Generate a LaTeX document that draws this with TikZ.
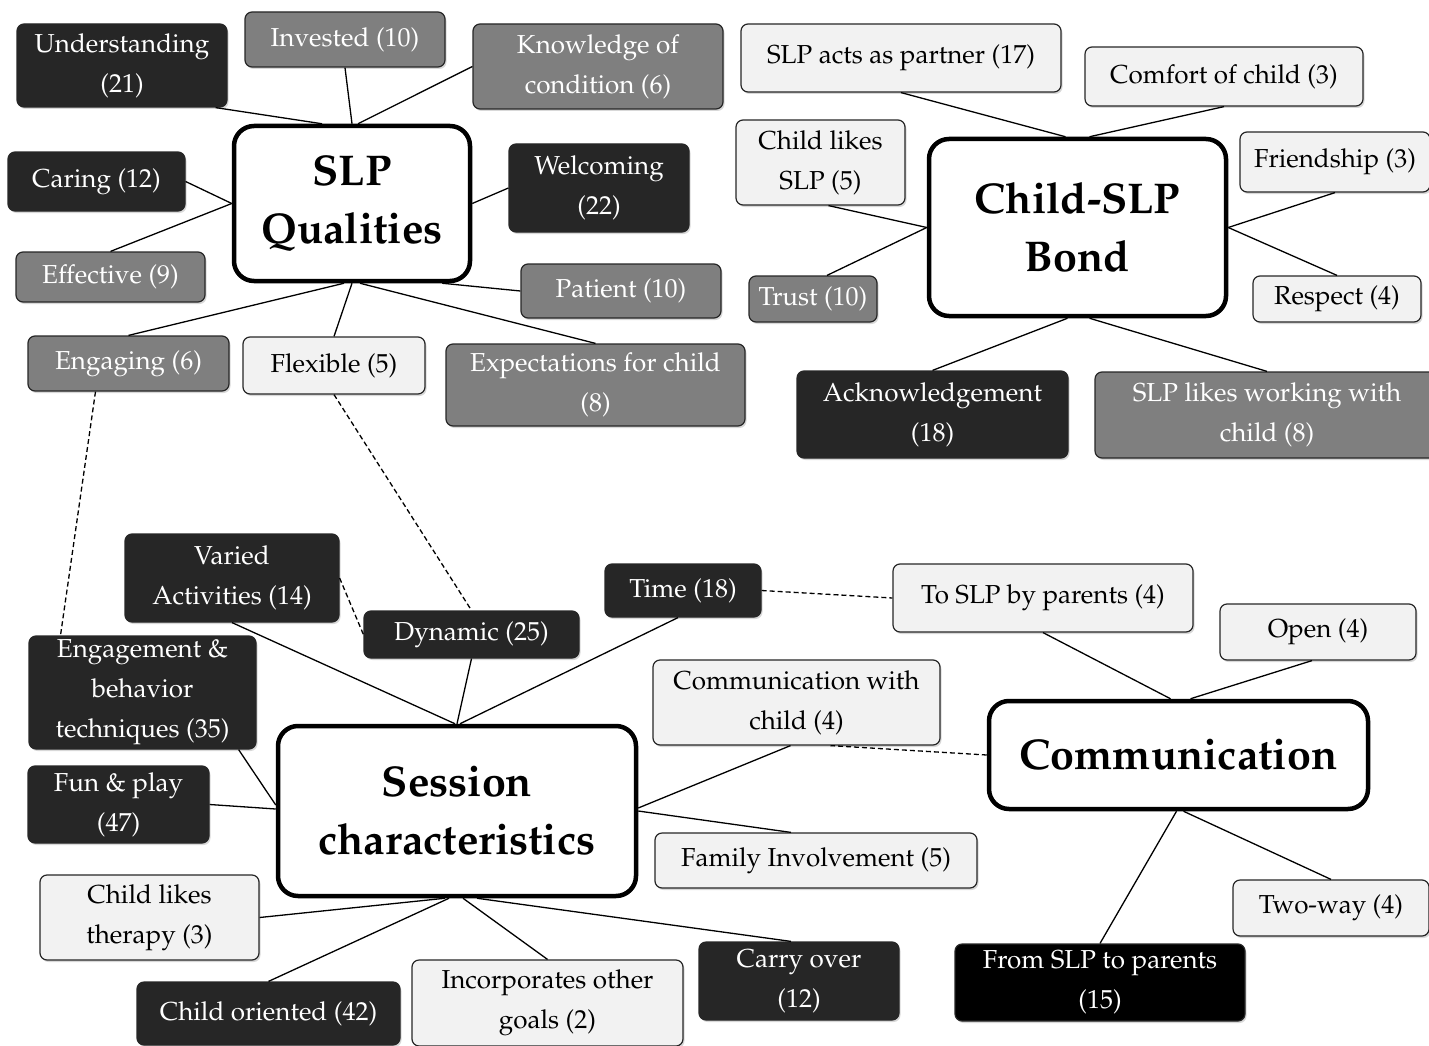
\documentclass[tikz,border=0pt]{standalone}
\usepackage[T1]{fontenc}
\usepackage{mathpazo}
\usetikzlibrary{shadows}
\definecolor{cDark}{HTML}{262626}
\definecolor{cGray}{HTML}{7F7F7F}
\definecolor{cLight}{HTML}{F2F2F2}
\newcommand\tagsize{\fontsize{26}{40}\selectfont}
\newcommand\hubsize{\fontsize{43}{58}\selectfont\bfseries}
\tikzset{
  sz/.style 2 args={minimum width=#1pt, minimum height=#2pt},
  tag/.style={draw=black!85, line width=1.2pt, rounded corners=7pt, inner sep=0pt, align=center, font=\tagsize,
    drop shadow={shadow xshift=1.5pt, shadow yshift=-2pt, fill=black!30}},
  dk/.style={tag, fill=cDark, text=white},
  gr/.style={tag, fill=cGray, text=white},
  lt/.style={tag, fill=cLight, text=black},
  bk/.style={tag, fill=black, text=white},
  hub/.style={draw, line width=4.5pt, rounded corners=20pt, fill=white, inner sep=0pt, align=center, font=\hubsize},
  link/.style={line width=1.3pt},
  dlink/.style={line width=1.3pt, dash pattern=on 5pt off 3pt},
}
\begin{document}
\begin{tikzpicture}[x=1pt,y=-1pt]
\useasboundingbox (0,0) rectangle (1429,1046);

\node[hub, sz={236}{155}] (slp) at (352,203.5) {SLP\\Qualities};
\node[dk, sz={210}{83}] (und) at (122,65.5) {Understanding\\(21)};
\node[gr, sz={200}{55}] (inv) at (345,39.5) {Invested (10)};
\node[gr, sz={250}{85}] (knw) at (598,66.5) {Knowledge of\\condition (6)};
\node[dk, sz={177}{59}] (car) at (96.5,181.5) {Caring (12)};
\node[dk, sz={180}{88}] (wel) at (599,188) {Welcoming\\(22)};
\node[gr, sz={189}{50}] (eff) at (110.5,277) {Effective (9)};
\node[gr, sz={200}{54}] (pat) at (621,291) {Patient (10)};
\node[gr, sz={201}{55}] (eng) at (128.5,363.5) {Engaging (6)};
\node[lt, sz={182}{57}] (flx) at (334,365.5) {Flexible (5)};
\node[gr, sz={299}{82}] (exp) at (595.5,385) {Expectations for child\\(8)};

\node[hub, sz={297}{177}] (bond) at (1077.5,227.5) {Child-SLP\\Bond};
\node[lt, sz={320}{68}] (prt) at (901,58) {SLP acts as partner (17)};
\node[lt, sz={278}{59}] (cmf) at (1224,76.5) {Comfort of child (3)};
\node[lt, sz={169}{85}] (cls) at (820.5,162.5) {Child likes\\SLP (5)};
\node[lt, sz={190}{60}] (frd) at (1335,162) {Friendship (3)};
\node[gr, sz={128}{46}] (trs) at (813,299) {Trust (10)};
\node[lt, sz={168}{46}] (rsp) at (1337,299) {Respect (4)};
\node[dk, sz={271}{87}] (ack) at (932.5,414.5) {Acknowledgement\\(18)};
\node[gr, sz={344}{86}] (lks) at (1267,415) {SLP likes working with\\child (8)};

\node[hub, sz={358}{170}] (ses) at (457,811) {Session\\characteristics};
\node[hub, sz={379}{108}] (com) at (1178.5,755) {Communication};
\node[dk, sz={214}{88}] (var) at (232,578) {Varied\\Activities (14)};
\node[dk, sz={156}{53}] (time) at (683,590.5) {Time (18)};
\node[lt, sz={300}{68}] (tsp) at (1043,598) {To SLP by parents (4)};
\node[lt, sz={196}{56}] (opn) at (1318,632) {Open (4)};
\node[dk, sz={215}{47}] (dyn) at (471.5,634.5) {Dynamic (25)};
\node[dk, sz={227}{113}] (ebt) at (142.5,692.5) {Engagement \&\\behavior\\techniques (35)};
\node[lt, sz={287}{85}] (cwc) at (796.5,702.5) {Communication with\\child (4)};
\node[dk, sz={181}{77}] (fun) at (118.5,804.5) {Fun \& play\\(47)};
\node[lt, sz={322}{55}] (fam) at (816,860.5) {Family Involvement (5)};
\node[lt, sz={219}{85}] (clt) at (149.5,917.5) {Child likes\\therapy (3)};
\node[lt, sz={196}{56}] (two) at (1331,908) {Two-way (4)};
\node[dk, sz={200}{78}] (cry) at (799,981) {Carry over\\(12)};
\node[bk, sz={290}{77}] (fsp) at (1100,982.5) {From SLP to parents\\(15)};
\node[dk, sz={263}{63}] (cor) at (268.5,1013.5) {Child oriented (42)};
\node[lt, sz={271}{86}] (inc) at (547.5,1003) {Incorporates other\\goals (2)};

\draw[link] ([xshift=-12pt]und.south east) -- ([xshift=-30pt]slp.north);
\draw[link] (inv.south) -- (slp.north);
\draw[link] (knw.west) -- ([xshift=6pt]slp.north);
\draw[link] (car.east) -- (slp.west);
\draw[link] (eff.north) -- (slp.west);
\draw[link] (wel.west) -- (slp.east);
\draw[link] (pat.west) -- ([xshift=-30pt]slp.south east);
\draw[link] (eng.north) -- ([xshift=-8pt]slp.south);
\draw[link] (flx.north) -- (slp.south);
\draw[link] (exp.north) -- ([xshift=8pt]slp.south);

\draw[link] (prt.south) -- ([xshift=-12pt]bond.north);
\draw[link] (cmf.south) -- ([xshift=12pt]bond.north);
\draw[link] ([xshift=8pt]cls.south) -- (bond.west);
\draw[link] ([xshift=14pt]trs.north) -- (bond.west);
\draw[link] (frd.south) -- (bond.east);
\draw[link] (rsp.north) -- (bond.east);
\draw[link] (ack.north) -- ([xshift=-10pt]bond.south);
\draw[link] (lks.north) -- ([xshift=12pt]bond.south);

\draw[link] (var.south) -- ([xshift=-2pt]ses.north);
\draw[link] (dyn.south) -- (ses.north);
\draw[link] ([xshift=-5pt]time.south) -- ([xshift=3pt]ses.north);
\draw[link] ([xshift=-18pt]ebt.south east) -- ([yshift=6pt]ses.west);
\draw[link] (fun.east) -- ([yshift=2pt]ses.west);
\draw[link] (clt.east) -- ([xshift=-12pt]ses.south);
\draw[link] (cor.north) -- ([xshift=-8pt]ses.south);
\draw[link] (inc.north) -- ([xshift=6pt]ses.south);
\draw[link] ([xshift=-8pt]cry.north) -- ([xshift=20pt]ses.south);
\draw[link] ([xshift=-25pt]fam.north) -- (ses.east);
\draw[link] ([xshift=-6pt]cwc.south) -- ([yshift=3pt]ses.east);

\draw[link] (tsp.south) -- ([xshift=-8pt]com.north);
\draw[link] ([xshift=-6pt]opn.south) -- ([xshift=12pt]com.north);
\draw[link] (two.north) -- ([xshift=5pt]com.south);
\draw[link] (fsp.north) -- ([xshift=-2pt]com.south);

\draw[dlink] ([xshift=-33pt]eng.south) -- ([xshift=-82pt]ebt.north);
\draw[dlink] (flx.south) -- (dyn.north);
\draw[dlink] (var.east) -- (dyn.west);
\draw[dlink] (time.east) -- (tsp.west);
\draw[dlink] (com.west) -- ([xshift=34pt]cwc.south);
\end{tikzpicture}
\end{document}
